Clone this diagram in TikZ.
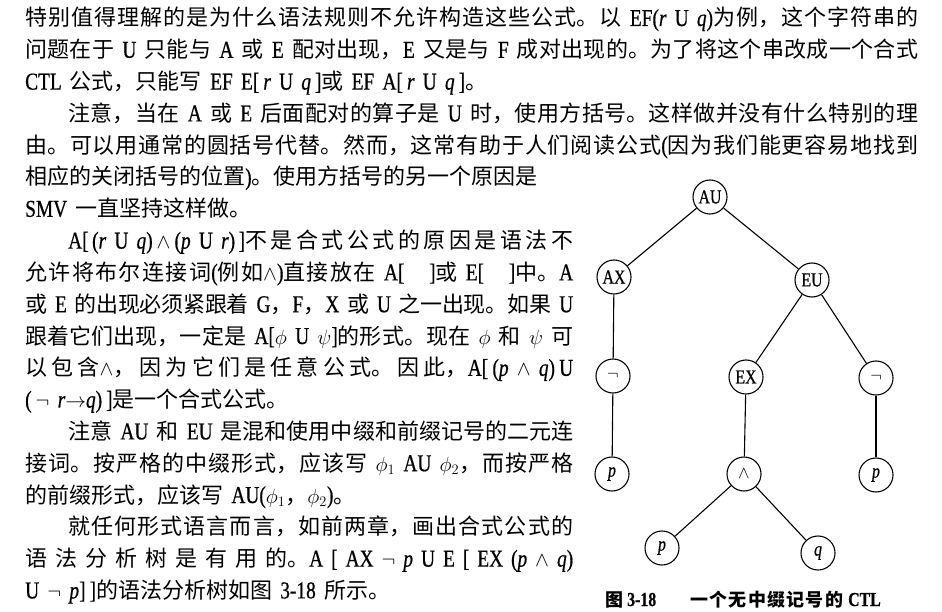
\documentclass[tikz,border=0pt]{standalone}
\usepackage{fontspec}
\setmainfont{Noto Sans CJK SC}
\newfontfamily\E[Scale=1.1,FakeStretch=0.8,WordSpace=1.7,FakeBold=0.6]{Liberation Serif}
\newcommand\e[1]{{\E #1}}
\newcommand\vv[1]{{\E\itshape #1}}
\newcommand\jl[2]{\parbox[b]{#1}{\XeTeXlinebreaklocale "zh"\XeTeXlinebreakskip=0pt plus 1fil minus 2pt\parfillskip=0pt\parindent=0pt\leftskip=0pt\rightskip=0pt\hbadness=10000\noindent #2}}
\tikzset{
  txt/.style={anchor=base west, inner sep=0pt, font=\fontsize{22}{31.8}\selectfont},
  tn/.style={circle, draw, line width=1.1pt, minimum size=34pt, inner sep=0pt, font=\E\fontsize{18}{18}\selectfont},
  lnk/.style={line width=1.1pt},
  captxt/.style={anchor=base west, inner sep=0pt, font=\bfseries\fontsize{18}{20}\selectfont}
}
\begin{document}
\begin{tikzpicture}[x=1pt,y=-1pt]
\useasboundingbox (0,0) rectangle (942,612);
% paragraph 1
\node[txt] (l0) at (25,{26+31.8*0}) {\jl{893pt}{特别值得理解的是为什么语法规则不允许构造这些公式。以\e{ EF(}\vv{r}\e{ U }\vv{q}\e{)}为例，这个字符串的}};
\node[txt] (l1) at (25,{26+31.8*1}) {\jl{893pt}{问题在于\e{ U }只能与\e{ A }或\e{ E }配对出现，\e{E }又是与\e{ F }成对出现的。为了将这个串改成一个合式}};
\node[txt] (l2) at (25,{26+31.8*2}) {\e{CTL }公式，只能写\e{ EF E[\,}\vv{r}\e{ U }\vv{q}\e{\,]}或\e{ EF A[\,}\vv{r}\e{ U }\vv{q}\e{\,]}。};
% paragraph 2
\node[txt] (l3) at (68,{26+31.8*3}) {\jl{850pt}{注意，当在\e{ A }或\e{ E }后面配对的算子是\e{ U }时，使用方括号。这样做并没有什么特别的理}};
\node[txt] (l4) at (25,{26+31.8*4}) {\jl{893pt}{由。可以用通常的圆括号代替。然而，这常有助于人们阅读公式\e{(}因为我们能更容易地找到}};
\node[txt] (l5) at (25,{26+31.8*5}) {相应的关闭括号的位置\e{)}。使用方括号的另一个原因是};
\node[txt] (l6) at (25,{26+31.8*6}) {\e{SMV }一直坚持这样做。};
% paragraph 3
\node[txt] (l7) at (68,{26+31.8*7}) {\jl{505pt}{\e{A[\hfil(}\vv{r}\e{ U }\vv{q}\e{)\,}$\wedge$\e{\,(}\vv{p}\e{ U }\vv{r}\e{)\hfil]}不是合式公式的原因是语法不}};
\node[txt] (l8) at (25,{26+31.8*8}) {\jl{548pt}{允许将布尔连接词\e{(}例如$\wedge$\e{)}直接放在\e{ A[\ \ \ ]}或\e{ E[\ \ \ ]}中。\e{A}}};
\node[txt] (l9) at (25,{26+31.8*9}) {\jl{548pt}{或\e{ E }的出现必须紧跟着\e{ G}，\e{F}，\e{X }或\e{ U }之一出现。如果\e{ U}}};
\node[txt] (l10) at (25,{26+31.8*10}) {\jl{548pt}{跟着它们出现，一定是\e{ A[\hfil}$\phi$\e{ U }$\psi$\e{]}的形式。现在\e{ }$\phi$\e{ }和\e{ }$\psi$\e{ }可}};
\node[txt] (l11) at (25,{26+31.8*11}) {\jl{548pt}{以包含$\wedge$，因为它们是任意公式。因此，\e{A[\hfil(}\vv{p}\e{ }$\wedge$\e{ }\vv{q}\e{)\hfil U}}};
\node[txt] (l12) at (25,{26+31.8*12}) {\e{(\,}$\neg$\e{ }\vv{r}$\to$\vv{q}\e{)\,]}是一个合式公式。};
% paragraph 4
\node[txt] (l13) at (68,{26+31.8*13}) {\jl{505pt}{注意\e{ AU }和\e{ EU }是混和使用中缀和前缀记号的二元连}};
\node[txt] (l14) at (25,{26+31.8*14}) {\jl{548pt}{接词。按严格的中缀形式，应该写\e{ }$\phi_1$\e{ AU }$\phi_2$，而按严格}};
\node[txt] (l15) at (25,{26+31.8*15}) {的前缀形式，应该写\e{ AU(}$\phi_1$，$\phi_2$\e{)}。};
% paragraph 5
\node[txt] (l16) at (68,{26+31.8*16}) {\jl{505pt}{就任何形式语言而言，如前两章，画出合式公式的}};
\node[txt] (l17) at (25,{26+31.8*17}) {\jl{548pt}{语法分析树是有用的。\e{A\hfil[\hfil AX\hfil}$\neg$\e{\hfil}\vv{p}\e{\hfil U\hfil E\hfil[\hfil EX\hfil(}\vv{p}\e{\hfil}$\wedge$\e{\hfil}\vv{q}\e{)}}};
\node[txt] (l18) at (25,{26+31.8*18}) {\e{U }$\neg$\e{ }\vv{p}\e{]\,]}的语法分析树如图\e{ 3-18 }所示。};
% tree
\node[tn] (au) at (710,197) {AU};
\node[tn] (ax) at (614,277) {AX};
\node[tn] (eu) at (812,280) {EU};
\node[tn] (n1) at (613,376) {$\neg$};
\node[tn] (ex) at (746,377) {EX};
\node[tn] (n2) at (876,378) {$\neg$};
\node[tn] (p1) at (612,474) {\itshape p};
\node[tn] (and) at (744,474) {$\wedge$};
\node[tn] (p3) at (876,475) {\itshape p};
\node[tn] (p2) at (662,548) {\itshape p};
\node[tn] (q) at (818,553) {\itshape q};
\draw[lnk] (au) -- (ax);
\draw[lnk] (au) -- (eu);
\draw[lnk] (ax) -- (n1);
\draw[lnk] (n1) -- (p1);
\draw[lnk] (eu) -- (ex);
\draw[lnk] (eu) -- (n2);
\draw[lnk] (ex) -- (and);
\draw[lnk] (n2) -- (p3);
\draw[lnk] (and) -- (p2);
\draw[lnk] (and) -- (q);
% caption
\node[captxt] (capt) at (605,606) {\makebox[22pt][l]{图}\makebox[63pt][l]{\e{\bfseries 3-18}}\jl{153pt}{一个无中缀记号的}\hspace{5pt}\e{\bfseries CTL}};
\end{tikzpicture}
\end{document}
